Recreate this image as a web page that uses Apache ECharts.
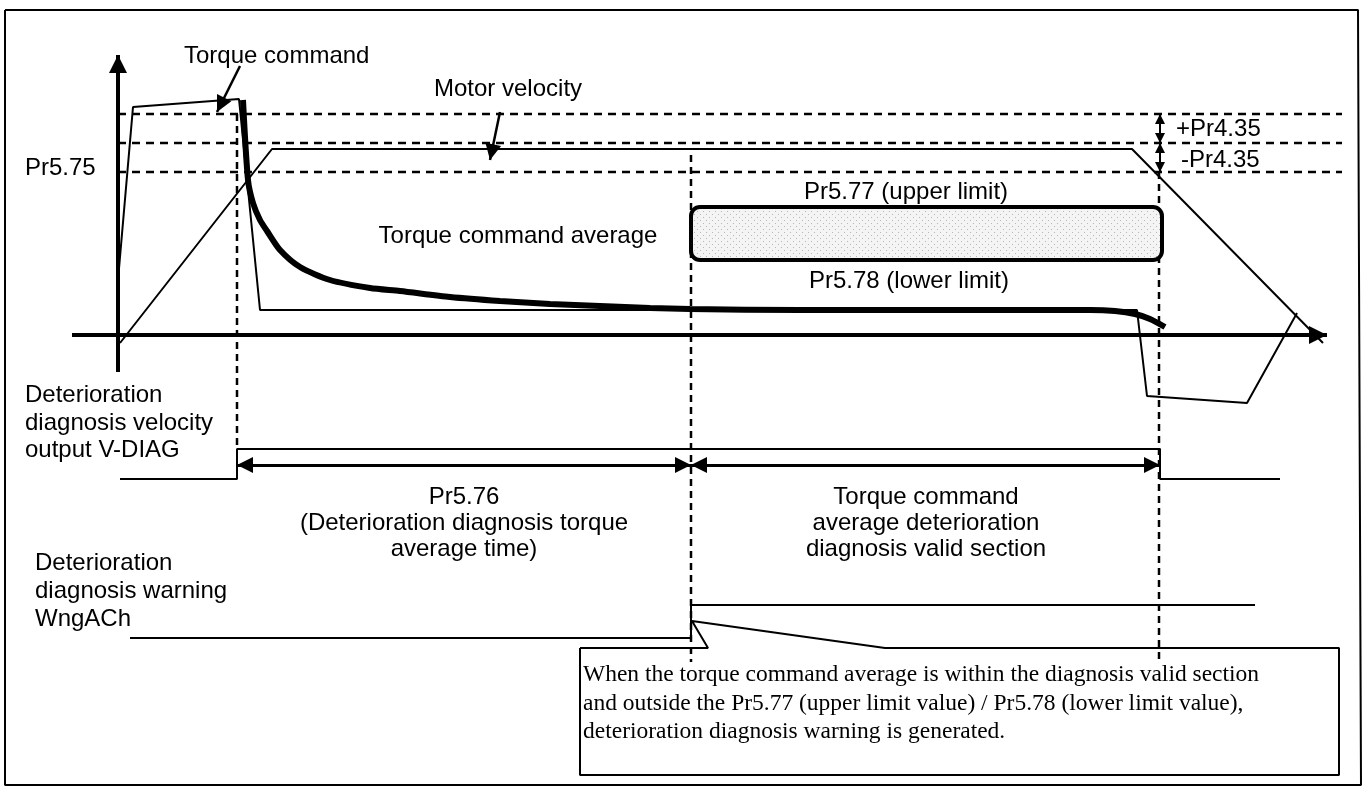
<!DOCTYPE html>
<html>
<head>
<meta charset="utf-8">
<title>Deterioration diagnosis timing</title>
<script src="https://cdn.jsdelivr.net/npm/echarts@6/dist/echarts.min.js"></script>
<style>
html, body { margin: 0; padding: 0; background: #fff; }
#main { width: 1365px; height: 787px; }
</style>
</head>
<body>
<div id="main"></div>
<script>
// x = time, y = level, both measured from the axis origin
const torqueCommand = [[0, 55], [15, 228], [121, 236], [142, 25], [1019, 25], [1029, -61], [1129, -68], [1179, 22]]
const torqueAverage = [[125, 235], [130, 155], [135, 132], [142, 115], [149, 104], [162, 85], [182, 68], [212, 55],
  [252, 47], [282, 44], [332, 38], [382, 34], [432, 31], [482, 29], [532, 27], [572, 26], [682, 25], [882, 25],
  [972, 25], [997, 24], [1017, 21], [1032, 16], [1047, 8]]
const motorVelocity = [[2, -8], [154, 186], [1014, 186], [1205, -8]]
const vDiag = [[2, -144], [119, -144], [119, -114], [1042, -114], [1042, -144], [1162, -144]]
const wngACh = [[12, -303], [573, -303], [573, -270], [1137, -270]]
const levelLines = [221, 192, 163]
const levelSpan = [0, 1224]
const timeMarks = [[119, 221, -114], [573, 180, -327], [1041, 163, -327]]
const limitBand = [573, 1044, 128, 75] // start, end, upper limit, lower limit
const spanArrows = [[119, 573, -130], [573, 1042, -130]]
const toleranceArrows = [[1042, 221, 192], [1042, 192, 163]]
const pointers = [[[122, 269], [99, 223]], [[382, 223], [372, 175]]]
const axisLines = [[[-46, 0], [1209, 0]], [[0, -37], [0, 280]]]
const noteBox = [[462, -313], [590, -313], [574, -286], [767, -313], [1221, -313], [1221, -440], [462, -440], [462, -313]]
const frame = [[-113, 325], [1240, 325], [1243, -450], [-113, -450], [-113, 325]]

const SANS = '24px "Liberation Sans", Arial, sans-serif'
const SERIF = '23.5px "Liberation Serif", "Times New Roman", serif'

function path (data, width, type, z) {
  return {
    type: 'line',
    data: data,
    symbol: 'none',
    silent: true,
    animation: false,
    z: z || 2,
    lineStyle: { color: '#000', width: width, type: type || 'solid' }
  }
}

// arrow tips sit on the end points (offset half a symbol back along the line)
function arrows (pairs, size, both, width) {
  return {
    type: 'line',
    data: [],
    silent: true,
    animation: false,
    z: 3,
    markLine: {
      silent: true,
      animation: false,
      symbol: both ? ['triangle', 'triangle'] : ['none', 'triangle'],
      symbolSize: size,
      symbolOffset: [[0, '50%'], [0, '50%']],
      label: { show: false },
      lineStyle: { color: '#000', width: width, type: 'solid' },
      emphasis: { disabled: true },
      data: pairs.map(p => [{ coord: p[0] }, { coord: p[1] }])
    }
  }
}

// dotted fill for the limit band
const dots = document.createElement('canvas')
dots.width = 6
dots.height = 6
const dc = dots.getContext('2d')
dc.fillStyle = '#f4f4f4'
dc.fillRect(0, 0, 6, 6)
dc.fillStyle = '#b8b8b8'
dc.fillRect(1, 1, 1, 1)
dc.fillRect(4, 4, 1, 1)

function label (text, x, y, align, font) {
  return {
    type: 'text',
    x: x,
    y: y,
    silent: true,
    z: 50,
    style: {
      text: text,
      font: font || SANS,
      fill: '#000',
      align: align || 'left',
      verticalAlign: 'middle',
      textAlign: align || 'left',
      textVerticalAlign: 'middle'
    }
  }
}

const series = [
  path(frame, 2),
  path(noteBox, 2)
]
levelLines.forEach(v => series.push(path([[levelSpan[0], v], [levelSpan[1], v]], 2.5, [8, 6])))
timeMarks.forEach(m => series.push(path([[m[0], m[1]], [m[0], m[2]]], 2.5, [7, 5])))
series.push(path(torqueCommand, 2))
series.push(path(motorVelocity, 2))
series.push(path(vDiag, 2))
series.push(path(wngACh, 2))
series.push(Object.assign(path(torqueAverage, 6, 'solid', 4), { smooth: 0.25 }))
series.push({
  type: 'custom',
  silent: true,
  animation: false,
  z: 3,
  data: [limitBand],
  renderItem: function (params, api) {
    const p0 = api.coord([api.value(0), api.value(2)])
    const p1 = api.coord([api.value(1), api.value(3)])
    return {
      type: 'rect',
      shape: { x: p0[0], y: p0[1], width: p1[0] - p0[0], height: p1[1] - p0[1], r: 9 },
      style: { fill: { image: dots, repeat: 'repeat' }, stroke: '#000', lineWidth: 4 }
    }
  }
})
series.push(arrows(axisLines, 18, false, 4))
series.push(arrows(pointers, 16, false, 2.5))
series.push(arrows(spanArrows.map(a => [[a[0], a[2]], [a[1], a[2]]]), 16, true, 3))
series.push(arrows(toleranceArrows.map(a => [[a[0], a[1]], [a[0], a[2]]]), 10, true, 2))

const chart = echarts.init(document.getElementById('main'), null, { renderer: 'canvas' })
chart.setOption({
  animation: false,
  backgroundColor: '#fff',
  grid: { left: 0, right: 0, top: 0, bottom: 0 },
  xAxis: { type: 'value', min: -118, max: 1247, show: false },
  yAxis: { type: 'value', min: -452, max: 335, show: false },
  series: series,
  graphic: [
    label('Torque command', 184, 56),
    label('Motor velocity', 434, 89),
    label('Pr5.75', 25, 168),
    label('+Pr4.35', 1176, 129),
    label('-Pr4.35', 1181, 160),
    label('Pr5.77 (upper limit)', 906, 192, 'center'),
    label('Torque command average', 518, 236, 'center'),
    label('Pr5.78 (lower limit)', 909, 281, 'center'),
    label('Deterioration', 25, 395),
    label('diagnosis velocity', 25, 423),
    label('output V-DIAG', 25, 450),
    label('Pr5.76', 464, 497, 'center'),
    label('(Deterioration diagnosis torque', 464, 523, 'center'),
    label('average time)', 464, 549, 'center'),
    label('Torque command', 926, 497, 'center'),
    label('average deterioration', 926, 523, 'center'),
    label('diagnosis valid section', 926, 549, 'center'),
    label('Deterioration', 35, 563),
    label('diagnosis warning', 35, 591),
    label('WngACh', 35, 619),
    label('When the torque command average is within the diagnosis valid section', 583, 675, 'left', SERIF),
    label('and outside the Pr5.77 (upper limit value) / Pr5.78 (lower limit value),', 583, 704, 'left', SERIF),
    label('deterioration diagnosis warning is generated.', 583, 732, 'left', SERIF)
  ]
})
</script>
</body>
</html>
